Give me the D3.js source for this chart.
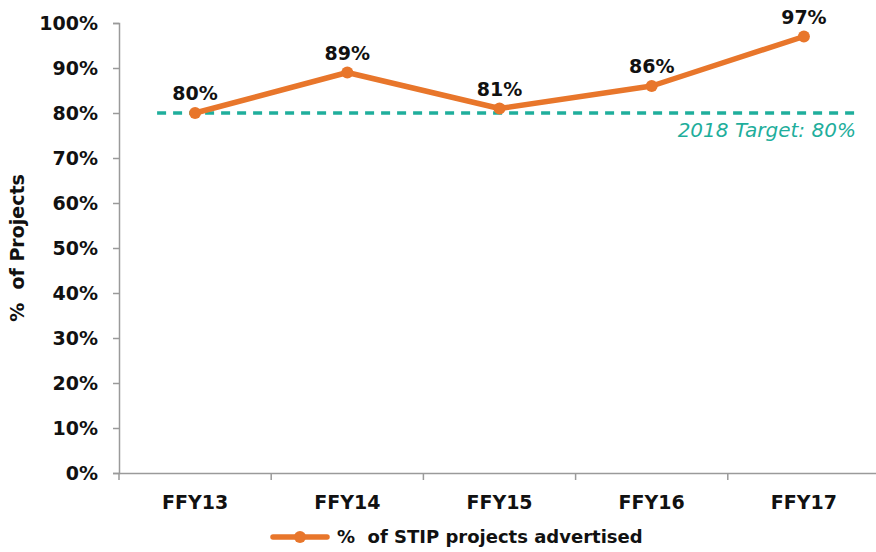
<!DOCTYPE html>
<html>
<head>
<meta charset="utf-8">
<script src="https://cdn.jsdelivr.net/npm/d3@7"></script>
<style>
  body { margin: 0; background: #fff; }
  svg text { font-family: "DejaVu Sans", "Liberation Sans", sans-serif; fill: #111; white-space: pre; }
</style>
</head>
<body>
<svg id="chart" width="876" height="552"></svg>
<script>
const years = ['FFY13', 'FFY14', 'FFY15', 'FFY16', 'FFY17'];
const advertised = [80, 89, 81, 86, 97];
const yTicks = [0, 10, 20, 30, 40, 50, 60, 70, 80, 90, 100];
const target = 80;
const targetLabel = '2018 Target: 80%';
const seriesName = '%  of STIP projects advertised';

const orange = '#e8762b';
const teal = '#1fae9c';

const margin = {top: 23, right: -4, bottom: 79, left: 119};
const width = 876 - margin.left - margin.right;
const height = 552 - margin.top - margin.bottom;

const svg = d3.select('#chart');
const chart = svg.append('g')
  .attr('transform', `translate(${margin.left}, ${margin.top})`);

const x = d3.scaleBand()
  .domain(years)
  .range([0, width]);

const y = d3.scaleLinear()
  .domain([0, 100])
  .range([height, 0]);

// axes
const yAxis = d3.axisLeft(y)
  .tickValues(yTicks)
  .tickSize(6)
  .tickPadding(15)
  .tickFormat(d => d + '%');

const axisY = chart.append('g').call(yAxis);
axisY.selectAll('text')
  .style('font-size', '19px')
  .style('font-weight', 700)
  .style('fill', '#111');

const axisX = chart.append('g')
  .attr('transform', `translate(0, ${height})`)
  .call(d3.axisBottom(x).tickSize(0).tickPadding(23));
axisX.selectAll('text')
  .style('font-size', '19px')
  .style('font-weight', 700)
  .style('fill', '#111');

// category boundary ticks
axisX.selectAll('.bound')
  .data(years.concat(['end']))
  .join('line')
  .attr('class', 'bound')
  .attr('x1', (d, i) => i * x.step())
  .attr('x2', (d, i) => i * x.step())
  .attr('y1', 0)
  .attr('y2', 7);

chart.selectAll('.domain, .tick line, .bound')
  .attr('stroke', '#9a9a9a')
  .attr('stroke-width', 1.5);

// target line
chart.append('line')
  .attr('x1', x('FFY13') + x.bandwidth() / 2 - 38)
  .attr('x2', x('FFY17') + x.bandwidth() / 2 + 52)
  .attr('y1', y(target))
  .attr('y2', y(target))
  .attr('stroke', teal)
  .attr('stroke-width', 3.5)
  .attr('stroke-dasharray', '9,7');

chart.append('text')
  .attr('x', x('FFY17') + x.bandwidth() / 2 + 52)
  .attr('y', y(target) + 24)
  .attr('text-anchor', 'end')
  .style('font-size', '20px')
  .style('font-style', 'italic')
  .style('fill', teal)
  .text(targetLabel);

// series line
const line = d3.line()
  .x((d, i) => x(years[i]) + x.bandwidth() / 2)
  .y(d => y(d));

chart.append('path')
  .datum(advertised)
  .attr('fill', 'none')
  .attr('stroke', orange)
  .attr('stroke-width', 5.5)
  .attr('stroke-linejoin', 'round')
  .attr('d', line);

chart.selectAll('.pt')
  .data(advertised)
  .join('circle')
  .attr('class', 'pt')
  .attr('cx', (d, i) => x(years[i]) + x.bandwidth() / 2)
  .attr('cy', d => y(d))
  .attr('r', 6)
  .attr('fill', orange);

chart.selectAll('.lbl')
  .data(advertised)
  .join('text')
  .attr('class', 'lbl')
  .attr('x', (d, i) => x(years[i]) + x.bandwidth() / 2)
  .attr('y', d => y(d) - 13)
  .attr('text-anchor', 'middle')
  .style('font-size', '19px')
  .style('font-weight', 700)
  .text(d => d + '%');

// y title
svg.append('text')
  .attr('transform', `translate(24, ${margin.top + height / 2}) rotate(-90)`)
  .attr('text-anchor', 'middle')
  .style('font-size', '19px')
  .style('font-weight', 700)
  .text('%  of Projects');

// legend
const legend = svg.append('g').attr('transform', 'translate(273, 537)');
legend.append('line')
  .attr('x1', 0).attr('x2', 54)
  .attr('stroke', orange)
  .attr('stroke-width', 5.5)
  .attr('stroke-linecap', 'round');
legend.append('circle')
  .attr('cx', 27).attr('r', 6)
  .attr('fill', orange);
legend.append('text')
  .attr('x', 64)
  .attr('dy', '0.35em')
  .style('font-size', '18px')
  .style('font-weight', 700)
  .text(seriesName);
</script>
</body>
</html>
